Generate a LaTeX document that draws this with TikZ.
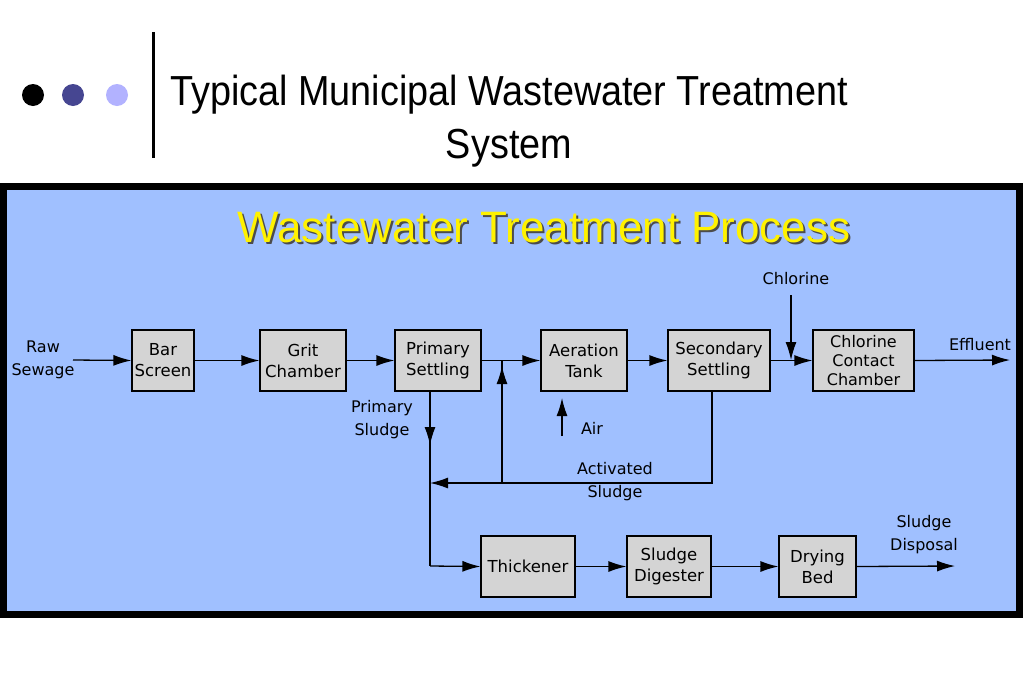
\documentclass[tikz,border=0pt]{standalone}
\usepackage{fontspec}
\setmainfont{Liberation Sans}
\newfontfamily\dvs{DejaVu Sans}
\usetikzlibrary{arrows.meta}
\definecolor{panel}{HTML}{A0C0FF}
\definecolor{boxg}{HTML}{D4D4D4}
\begin{document}
\begin{tikzpicture}[x=1pt,y=-1pt,
  box/.style={draw=black,line width=1.2pt,fill=boxg,inner sep=0pt,align=center,font=\dvs\fontsize{16.5}{21}\selectfont},
  lab/.style={align=center,font=\dvs\fontsize{16}{23}\selectfont},
  fl/.style={line width=1.3pt,-{Latex[length=18pt,width=11pt]}},
  ln/.style={line width=1.3pt}]
\useasboundingbox (0,0) rectangle (1024,683);
\fill[white] (0,0) rectangle (1024,683);
% header
\fill[black] (33,95) circle (11);
\fill[black!35!blue!45!gray] (73,95) circle (11);
\fill[blue!30] (117,95) circle (11);
\draw[line width=3pt] (153,32) -- (153,158);
\node[align=center,font=\fontsize{42}{53}\selectfont,xscale=0.9,transform shape] (ttl) at (509,121) {Typical Municipal Wastewater Treatment\\System};
% panel
\draw[fill=panel,line width=7pt] (3.5,186.5) rectangle (1019,614.5);
\node[font=\fontsize{44}{46}\selectfont,text=black!70] at (546,230) {Wastewater Treatment Process};
\node[font=\fontsize{44}{46}\selectfont,text=yellow] (head) at (544,228) {Wastewater Treatment Process};
% boxes
\node[box,minimum width=62,minimum height=61] (bs) at (163,360.5) {Bar\\Screen};
\node[box,minimum width=86,minimum height=61] (gc) at (303,360.5) {Grit\\Chamber};
\node[box,minimum width=86,minimum height=61] (ps) at (438,360.5) {Primary\\Settling};
\node[box,minimum width=86,minimum height=61] (at) at (584,360.5) {Aeration\\Tank};
\node[box,minimum width=102,minimum height=61] (ss) at (719,360.5) {Secondary\\Settling};
\node[box,minimum width=101,minimum height=61,font=\dvs\fontsize{16}{19}\selectfont] (cc) at (863.5,360.5) {Chlorine\\Contact\\Chamber};
\node[box,minimum width=94,minimum height=61] (th) at (528,566.5) {Thickener};
\node[box,minimum width=84,minimum height=61] (sd) at (669,566.5) {Sludge\\Digester};
\node[box,minimum width=77,minimum height=61] (db) at (817.5,566.5) {Drying\\Bed};
% labels
\node[lab] (raw) at (43,360) {Raw\\Sewage};
\node[lab] (psl) at (382,420) {Primary\\Sludge};
\node[lab] (air) at (592,428) {Air};
\node[lab] (asl) at (615,482) {Activated\\Sludge};
\node[lab] (chl) at (796,279) {Chlorine};
\node[lab] (eff) at (980,345) {Effluent};
\node[lab] (sdl) at (924,535) {Sludge\\Disposal};
\coordinate (r0) at (73,360);
\coordinate (e1) at (1010,360);
\coordinate (d1) at (955,566);
\coordinate (c0) at (791,295);
\coordinate (a0) at (562,436);
\coordinate (a1) at (562,398);
\coordinate (j1) at (430,483);
\coordinate (j2) at (502,483);
\coordinate (j3) at (502,360);
\coordinate (j4) at (430,566);
% main flow
\draw[fl] (r0) -- (bs.west);
\draw[fl] (bs.east) -- (gc.west);
\draw[fl] (gc.east) -- (ps.west);
\draw[fl] (ps.east) -- (at.west);
\draw[fl] (at.east) -- (ss.west);
\draw[fl] (ss.east) -- (cc.west);
\draw[fl] (cc.east) -- (e1);
\draw[fl] (c0) -- (791,360);
\draw[fl] (a0) -- (a1);
% sludge
\draw[fl] (ps.south -| j1) -- (430,445);
\draw[ln] (430,440) -- (j4);
\draw[fl] (j4) -- (th.west);
\draw[ln] (ss.south -| 712,0) -- (712,483) -- (j2);
\draw[fl] (j2) -- (j1);
\draw[fl] (j2) -- (502,366);
\draw[ln] (502,370) -- (j3);
\draw[fl] (th.east) -- (sd.west);
\draw[fl] (sd.east) -- (db.west);
\draw[fl] (db.east) -- (d1);
\end{tikzpicture}
\end{document}
